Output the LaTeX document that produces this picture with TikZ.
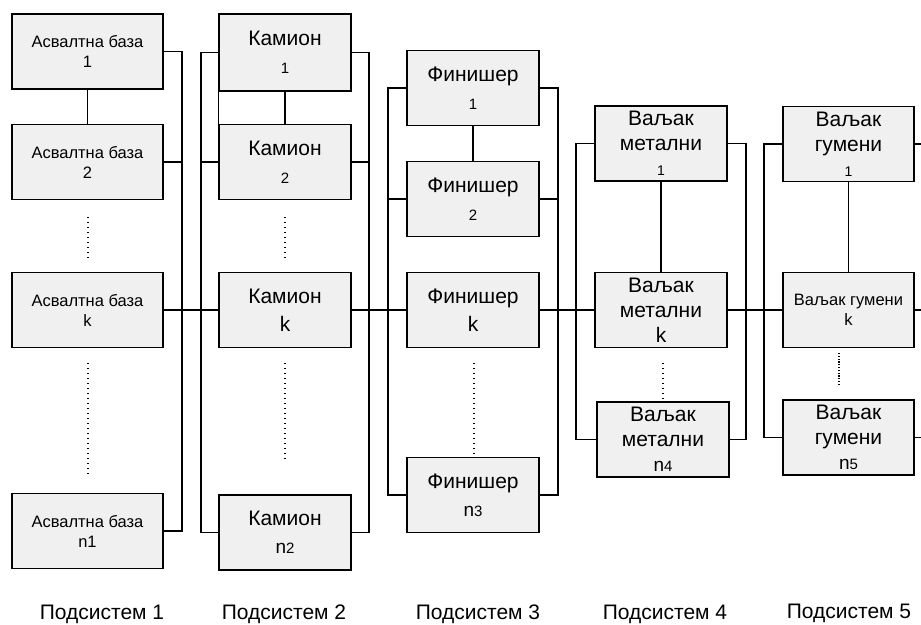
\documentclass[tikz,border=0pt]{standalone}
\usepackage{fontspec}
\setmainfont{Liberation Sans}
\definecolor{boxfill}{RGB}{240,240,240}
\begin{document}
\begin{tikzpicture}[x=1pt,y=-1pt,
  blk/.style={draw=black, line width=1.8pt, fill=boxfill, inner sep=0pt, align=center},
  sone/.style={blk, minimum width=151pt, minimum height=75pt, font=\fontsize{16.5}{20}\selectfont},
  stwo/.style={blk, minimum width=132pt, minimum height=75pt, font=\fontsize{21}{28}\selectfont},
  sfour/.style={blk, minimum width=132pt, minimum height=75pt, font=\fontsize{21}{25}\selectfont},
  wire/.style={line width=1.1pt},
  dotline/.style={line width=1.1pt, dash pattern=on 1pt off 4pt},
  dotdense/.style={line width=1.1pt, dash pattern=on 1.2pt off 1.6pt},
  sublabel/.style={font=\fontsize{21}{21}\selectfont, anchor=base, inner sep=0pt}]
\useasboundingbox (0,0) rectangle (921,624);
\newcommand{\smalln}[1]{{\fontsize{15}{15}\selectfont #1}}
\newcommand{\tinyn}[1]{{\fontsize{14}{14}\selectfont #1}}
\newcommand{\midn}{{\fontsize{19}{19}\selectfont n}}

% Subsystem 1
\node[sone] (a1) at (87.5,51.5) {Асвалтна база\\1};
\node[sone] (a2) at (87.5,162) {Асвалтна база\\2};
\node[sone] (ak) at (87.5,310) {Асвалтна база\\k};
\node[sone] (an) at (87.5,531) {Асвалтна база\\n1};

% Subsystem 2
\node[stwo, minimum height=77pt] (c1) at (285,52.5) {Камион\\\smalln{1}};
\node[stwo] (c2) at (285,162) {Камион\\\smalln{2}};
\node[stwo] (ck) at (285,310) {Камион\\k};
\node[stwo] (cn) at (285,532.5) {Камион\\\midn\smalln{2}};

% Subsystem 3
\node[stwo] (f1) at (473,88) {Финишер\\\smalln{1}};
\node[stwo] (f2) at (473,199) {Финишер\\\smalln{2}};
\node[stwo] (fk) at (473,310) {Финишер\\k};
\node[stwo] (fn) at (473,495) {Финишер\\\midn\smalln{3}};

% Subsystem 4
\node[sfour] (v1) at (661,143.5) {Ваљак\\метални\\\tinyn{1}};
\node[sfour] (vk) at (661,310) {Ваљак\\метални\\k};
\node[sfour] (vn) at (663,439.5) {Ваљак\\метални\\\midn\smalln{4}};

% Subsystem 5
\node[sfour, minimum width=131pt] (g1) at (848.5,144) {Ваљак\\гумени\\\tinyn{1}};
\node[sone, minimum width=131pt] (gk) at (848.5,310) {Ваљак гумени\\k};
\node[sfour, minimum width=131pt] (gn) at (848.5,437.5) {Ваљак\\гумени\\\midn\smalln{5}};

% bus positions
\coordinate (r1) at (182,0);
\coordinate (l2) at (201,0);
\coordinate (r2) at (369,0);
\coordinate (l3) at (388,0);
\coordinate (r3) at (558,0);
\coordinate (l4) at (576,0);
\coordinate (r4) at (746,0);
\coordinate (l5) at (764,0);
\coordinate (r5) at (921,0);

% Subsystem 1 bus
\draw[wire] (a1.east) -- (a1.east -| r1) -- (an.east -| r1) -- (an.east);
\draw[wire] (a2.east) -- (a2.east -| r1);
\draw[wire] (a1.south) -- (a2.north);

% Subsystem 2 buses
\draw[wire] (c1.west) -- (c1.west -| l2) -- (cn.west -| l2) -- (cn.west);
\draw[wire] (c2.west) -- (c2.west -| l2);
\draw[wire] (c1.east) -- (c1.east -| r2) -- (cn.east -| r2) -- (cn.east);
\draw[wire] (c2.east) -- (c2.east -| r2);
\draw[wire] (c1.south) -- (c2.north);
\draw[wire] (c1.south west) -- (c2.north west);

% Subsystem 3 buses
\draw[wire] (f1.west) -- (f1.west -| l3) -- (fn.west -| l3) -- (fn.west);
\draw[wire] (f2.west) -- (f2.west -| l3);
\draw[wire] (f1.east) -- (f1.east -| r3) -- (fn.east -| r3) -- (fn.east);
\draw[wire] (f2.east) -- (f2.east -| r3);
\draw[wire] (f1.south) -- (f2.north);

% Subsystem 4 buses
\draw[wire] (v1.west) -- (v1.west -| l4) -- (vn.west -| l4) -- (vn.west);
\draw[wire] (v1.east) -- (v1.east -| r4) -- (vn.east -| r4) -- (vn.east);
\draw[wire] (v1.south) -- (vk.north);

% Subsystem 5 buses
\draw[wire] (g1.west) -- (g1.west -| l5) -- (gn.west -| l5) -- (gn.west);
\draw[wire] (g1.east) -- (g1.east -| r5);
\draw[wire] (gn.east) -- (gn.east -| r5);
\draw[wire] (g1.south) -- (gk.north);

% main line
\draw[wire] (ak.east) -- (ck.west);
\draw[wire] (ck.east) -- (fk.west);
\draw[wire] (fk.east) -- (vk.west);
\draw[wire] (vk.east) -- (gk.west);
\draw[wire] (gk.east) -- (gk.east -| r5);

% dotted ellipses
\draw[dotline] (88,217) -- (88,259);
\draw[dotline] (88,363) -- (88,475);
\draw[dotline] (285,217) -- (285,259);
\draw[dotline] (285,363) -- (285,460);
\draw[dotline] (474,363) -- (474,455);
\draw[dotline] (663,363) -- (663,399);
\draw[dotdense] (839,353) -- (839,384);

% labels
\node[sublabel] (s1) at (102,619) {Подсистем 1};
\node[sublabel] (s2) at (284,619) {Подсистем 2};
\node[sublabel] (s3) at (478,619) {Подсистем 3};
\node[sublabel] (s4) at (665,619) {Подсистем 4};
\node[sublabel] (s5) at (849,618) {Подсистем 5};
\end{tikzpicture}
\end{document}
